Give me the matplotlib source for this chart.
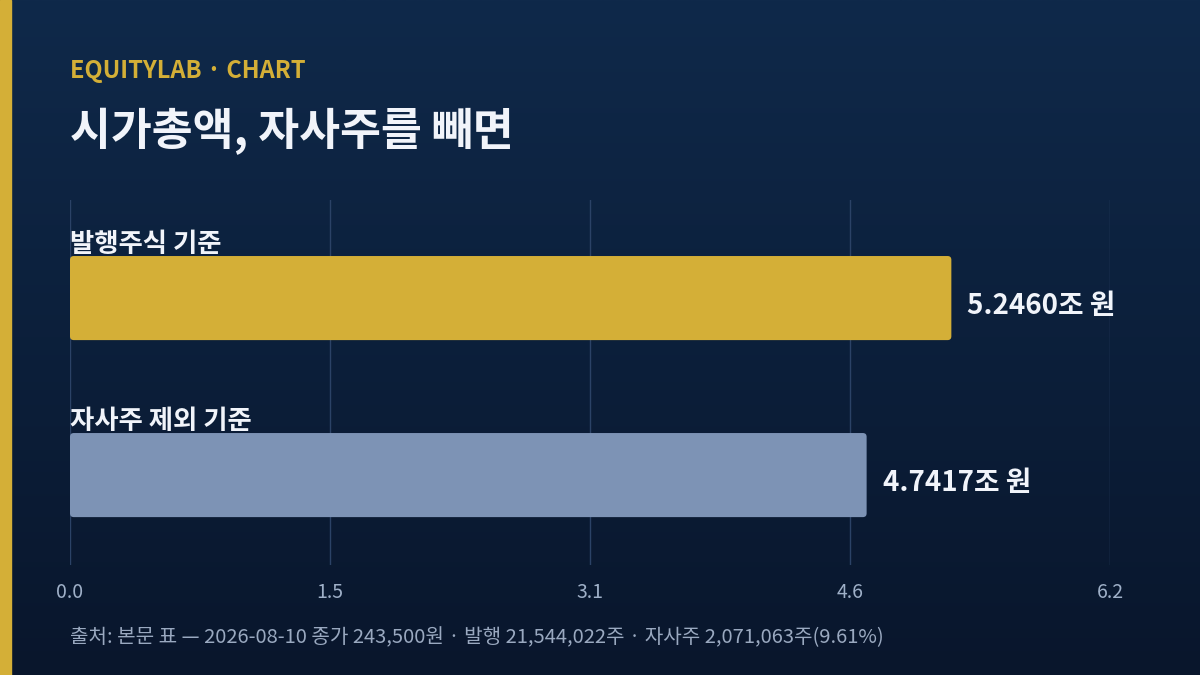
import matplotlib.pyplot as plt
import numpy as np
from matplotlib.patches import FancyBboxPatch, Rectangle

plt.rcParams["font.family"] = ["Noto Sans CJK KR", "DejaVu Sans"]

categories = ["발행주식 기준", "자사주 제외 기준"]
values = [5.2460, 4.7417]
value_labels = ["5.2460조 원", "4.7417조 원"]
bar_colors = ["#d4af37", "#7d93b5"]
kicker = "EQUITYLAB · CHART"
title = "시가총액, 자사주를 빼면"
source = "출처: 본문 표 — 2026-08-10 종가 243,500원 · 발행 21,544,022주 · 자사주 2,071,063주(9.61%)"

W, H = 1200, 675
fig = plt.figure(figsize=(12, 6.75), dpi=100)

# background gradient
bg = fig.add_axes([0, 0, 1, 1])
top = np.array([0x0f, 0x29, 0x4a]) / 255
bot = np.array([0x09, 0x16, 0x2c]) / 255
t = np.linspace(0, 1, 256)[:, None]
grad = top * (1 - t) + bot * t
bg.imshow(grad[:, None, :].repeat(2, axis=1), aspect="auto", extent=[0, 1, 0, 1])
bg.add_patch(Rectangle((0, 0), 11 / W, 1, color="#d4af37", transform=bg.transAxes))
bg.set_axis_off()

fig.text(70 / W, 1 - 71 / H, kicker, color="#d4af37", fontsize=17,
         fontweight="bold", va="center", ha="left")
fig.text(70 / W, 1 - 132 / H, title, color="#f1f4fa", fontsize=32,
         fontweight="bold", va="center", ha="left")
fig.text(70 / W, 1 - 638 / H, source, color="#9aa9c0", fontsize=14.5,
         va="center", ha="left")

# chart area
x0, x1, y_top, y_bot = 70, 1110, 200, 565
ax = fig.add_axes([x0 / W, 1 - y_bot / H, (x1 - x0) / W, (y_bot - y_top) / H])
ax.patch.set_alpha(0)

xmax = max(values) * 1.18
ax.set_xlim(0, xmax)
ax.set_ylim(1.508, -0.554)
ticks = np.linspace(0, xmax, 5)
ax.set_xticks(ticks)
ax.set_xticklabels([f"{v:.1f}" for v in ticks], color="#9fb0c8", fontsize=14)
ax.tick_params(axis="x", length=0, pad=12)
ax.set_yticks([])
for s in ax.spines.values():
    s.set_visible(False)
ax.grid(axis="x", color="#2b4266", linewidth=1)
ax.set_axisbelow(True)

bh = 0.475
px_x = (x1 - x0) / xmax
px_y = (y_bot - y_top) / (1.508 + 0.554)
rs = 4 / px_y
for i, (v, c) in enumerate(zip(values, bar_colors)):
    ax.text(0, i - bh / 2 + 0.01, categories[i], color="#f1f4fa", fontsize=19,
            fontweight="bold", ha="left", va="bottom", zorder=2)
    p = FancyBboxPatch((0, i - bh / 2), v, bh,
                       boxstyle=f"round,pad=0,rounding_size={rs}",
                       mutation_aspect=px_x / px_y, facecolor=c,
                       edgecolor="none", zorder=3)
    ax.add_patch(p)
    ax.text(v + 16 / px_x, i + 0.045, value_labels[i], color="#f1f4fa",
            fontsize=20, fontweight="bold", ha="left", va="center", zorder=4)

fig.savefig("out.png", dpi=100)
